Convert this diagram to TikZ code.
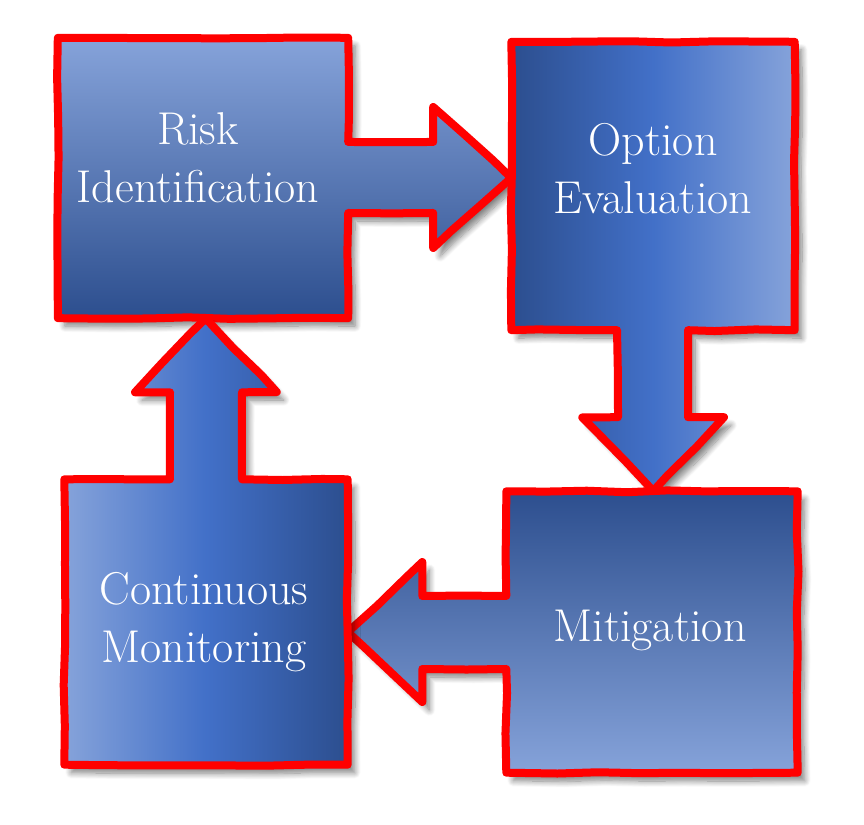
\documentclass[tikz,border=0pt]{standalone}
\usepackage{fontspec}
\usetikzlibrary{calc,backgrounds,decorations.pathmorphing,shadows.blur}

\definecolor{boxlight}{RGB}{134,163,218}
\definecolor{boxmid}{RGB}{66,112,200}
\definecolor{boxdark}{RGB}{44,78,142}
\definecolor{rimred}{RGB}{255,0,0}

\pgfdeclarehorizontalshading{darklight}{100bp}{color(0bp)=(boxdark); color(25bp)=(boxdark); color(50bp)=(boxmid); color(75bp)=(boxlight); color(100bp)=(boxlight)}
\pgfdeclarehorizontalshading{lightdark}{100bp}{color(0bp)=(boxlight); color(25bp)=(boxlight); color(50bp)=(boxmid); color(75bp)=(boxdark); color(100bp)=(boxdark)}

\tikzset{
  stage/.style={inner sep=0pt},
  caption/.style={inner sep=0pt, text=white, align=center,
    font=\fontsize{46}{58}\selectfont},
  rim/.style={draw=rimred, line width=8pt, line join=round,
    decorate, decoration={random steps, segment length=40pt, amplitude=1pt},
    blur shadow={shadow xshift=7pt, shadow yshift=-8pt, shadow blur radius=6pt,
      shadow blur steps=10, shadow opacity=50}}
}

\begin{document}
\begin{tikzpicture}[x=1pt, y=1pt]
        \pgfmathsetseed{11}
        \useasboundingbox (0,0) rectangle (864,824);

        \node[stage, minimum width=290, minimum height=280] (risk) at (203,646) {};
        \node[stage, minimum width=283, minimum height=288] (option) at (653,638) {};
        \node[stage, minimum width=291, minimum height=281] (mitig) at (652,192) {};
        \node[stage, minimum width=283, minimum height=285] (monit) at (206,202) {};

        \node[caption] (risktext) at (198,666) {Risk\\Identification};
        \node[caption] (optiontext) at (653,655) {Option\\Evaluation};
        \node[caption, anchor=base] (mitigtext) at (650,182) {Mitigation};
        \node[caption] (monittext) at (204,202) {Continuous\\Monitoring};

        \begin{pgfonlayer}{background}
        \path[rim, top color=boxlight, middle color=boxmid, bottom color=boxdark]
        (risk.north west) -- (risk.north east) -- ($(risk.east)+(0,36)$)
        -- ++(85,0) -- ++(0,35) -- (risk.east -| option.west)
        -- ($(risk.east)+(85,-70)$) -- ++(0,35) -- ($(risk.east)+(0,-35)$)
        -- (risk.south east) -- (risk.south west) -- cycle;

        \path[rim, shading=darklight]
        (option.north west) -- (option.north east) -- (option.south east)
        -- ($(option.south)+(35,0)$) -- ++(0,-87) -- ++(36,0)
        -- (option.south |- mitig.north) -- ($(option.south)+(-71,-87)$)
        -- ++(36,0) -- ($(option.south)+(-36,0)$) -- (option.south west) -- cycle;

        \path[rim, top color=boxdark, middle color=boxmid, bottom color=boxlight]
        (mitig.north west) -- (mitig.north east) -- (mitig.south east)
        -- (mitig.south west) -- ($(mitig.west)+(0,-37)$) -- ++(-84,0) -- ++(0,-33)
        -- (mitig.west -| monit.east) -- ($(mitig.west)+(-84,70)$)
        -- ++(0,-34) -- ($(mitig.west)+(0,36)$) -- cycle;

        \path[rim, shading=lightdark]
        (monit.north west) -- ($(monit.north)+(-36,0)$) -- ++(0,87) -- ++(-35,0)
        -- (monit.north |- risk.south) -- ($(monit.north)+(71,87)$)
        -- ++(-35,0) -- ($(monit.north)+(36,0)$) -- (monit.north east)
        -- (monit.south east) -- (monit.south west) -- cycle;
        \end{pgfonlayer}
\end{tikzpicture}
\end{document}
